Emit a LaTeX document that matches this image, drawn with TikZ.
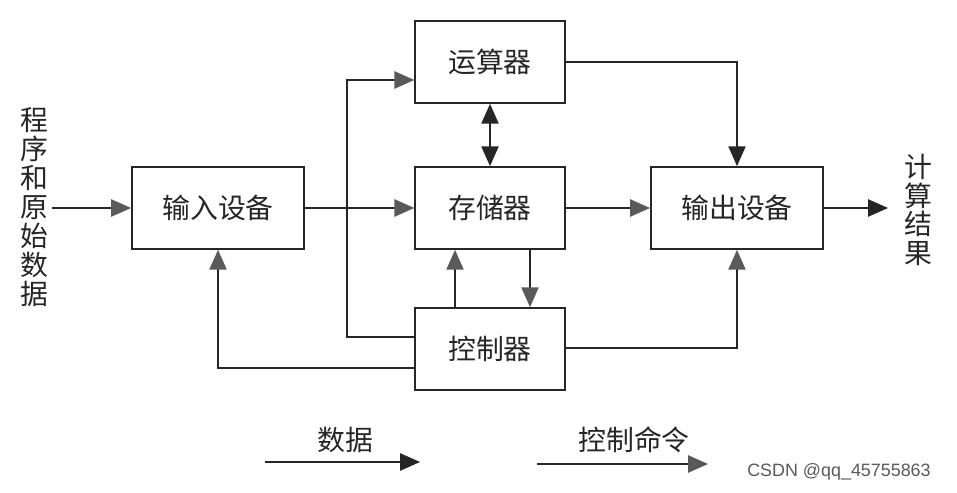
\documentclass[tikz,border=0pt]{standalone}
\usepackage{fontspec}
\newfontfamily\cjk{Noto Sans CJK SC}
\newfontfamily\wmfont{Liberation Sans}
\usetikzlibrary{arrows.meta}
\definecolor{hg}{HTML}{5A5A5A}
\definecolor{ln}{HTML}{262626}
\tikzset{
  box/.style={draw=ln,line width=1.1pt,minimum width=113pt,minimum height=62pt,inner sep=0pt,font=\cjk\fontsize{21}{22}\selectfont,text=ln},
  wide/.style={box,minimum width=130pt},
  dat/.style={draw=ln,line width=1.2pt,-{Triangle[length=15pt,width=13pt,fill=hg,color=hg]}},
  blk/.style={draw=ln,line width=1.2pt,-{Triangle[length=15pt,width=13pt,fill=ln,color=ln]}},
  lbl/.style={font=\cjk\fontsize{21}{21.8}\selectfont,text=ln,align=center,inner sep=0pt}
}
\begin{document}
\begin{tikzpicture}[x=0.0265cm,y=-0.0265cm]
\useasboundingbox (0,0) rectangle (957,493);
\node[box] (alu) at (490,62) {运算器};
\node[wide] (in) at (218,208) {输入设备};
\node[box] (mem) at (490,208) {存储器};
\node[wide] (out) at (737,208) {输出设备};
\node[box] (ctl) at (490,349) {控制器};
\node[lbl] (src) at (34,207) {程\\序\\和\\原\\始\\数\\据};
\node[lbl] (res) at (918,210) {计\\算\\结\\果};
\coordinate (s0) at (52,208);
\coordinate (r0) at (888,208);
\draw[dat] (s0) -- (in.west);
\draw[blk] (out.east) -- (r0);
\draw[dat] (in.east) -- (mem.west);
\draw[dat] (mem.east) -- (out.west);
\draw[blk,{Triangle[length=15pt,width=13pt,fill=ln,color=ln]}-{Triangle[length=15pt,width=13pt,fill=ln,color=ln]}] (alu.south) -- (mem.north);
\draw[blk] (alu.east |- 0,62) -| (out.north);
\draw[dat] (ctl.west |- 0,337) -| (347,80) -- (alu.west |- 0,80);
\draw[dat] (ctl.west |- 0,368) -| (in.south);
\draw[dat] (ctl.north -| 455,0) -- (mem.south -| 455,0);
\draw[dat] (mem.south -| 530,0) -- (ctl.north -| 530,0);
\draw[dat] (ctl.east |- 0,348) -| (out.south);
% legend
\node[lbl] (ld) at (345,440) {数据};
\node[lbl] (lc) at (634,440) {控制命令};
\coordinate (d0) at (265,462); \coordinate (d1) at (420,462);
\coordinate (c0) at (537,464); \coordinate (c1) at (708,464);
\draw[blk] (d0) -- (d1);
\draw[dat] (c0) -- (c1);
\node[font=\wmfont\fontsize{13.5}{14}\selectfont,text=hg,inner sep=0pt] (wm) at (839,472) {CSDN @qq\_45755863};
\end{tikzpicture}
\end{document}
